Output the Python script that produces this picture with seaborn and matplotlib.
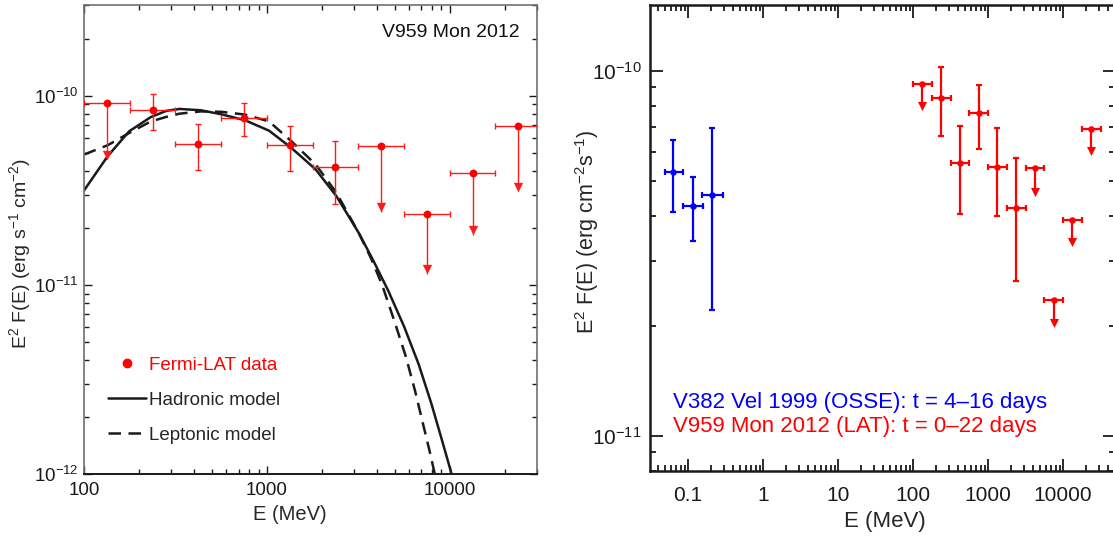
import numpy as np
import pandas as pd
import seaborn as sns
import matplotlib.pyplot as plt
from matplotlib.lines import Line2D
from matplotlib.ticker import FixedLocator, FixedFormatter, LogLocator, NullFormatter

# Fermi-LAT spectrum of V959 Mon 2012 (E in MeV, E^2 F(E) in erg cm^-2 s^-1)
lat_e = [133, 237, 422, 750, 1334, 2371, 4217, 7499, 13335, 23714]
lat_e_lo = [100, 178, 316, 562, 1000, 1778, 3162, 5623, 10000, 17783]
lat_e_hi = [178, 316, 562, 1000, 1778, 3162, 5623, 10000, 17783, 31623]
lat_f = [9.2e-11, 8.4e-11, 5.57e-11, 7.65e-11, 5.46e-11, 4.2e-11, 5.4e-11, 2.36e-11, 3.9e-11, 6.9e-11]
lat_f_lo = [np.nan, 6.6e-11, 4.06e-11, 6.1e-11, 4.0e-11, 2.66e-11, np.nan, np.nan, np.nan, np.nan]
lat_f_hi = [np.nan, 1.02e-10, 7.05e-11, 9.15e-11, 6.95e-11, 5.78e-11, np.nan, np.nan, np.nan, np.nan]
lat_ul = [True, False, False, False, False, False, True, True, True, True]
# arrow ends of the upper limits, as drawn in each panel
ul_end_left = [4.6e-11, 2.44e-11, 1.14e-11, 1.84e-11, 3.12e-11]
ul_end_right = [8.13e-11, 4.73e-11, 2.07e-11, 3.44e-11, 6.12e-11]

# OSSE spectrum of V382 Vel 1999
osse_e = [0.064, 0.115, 0.209]
osse_e_lo = [0.050, 0.085, 0.155]
osse_e_hi = [0.085, 0.160, 0.290]
osse_f = [5.27e-11, 4.26e-11, 4.57e-11]
osse_f_lo = [4.09e-11, 3.42e-11, 2.21e-11]
osse_f_hi = [6.44e-11, 5.11e-11, 6.95e-11]

# model curves (log10 E, log10 E^2F)
had_loge = [2.0, 2.129, 2.247, 2.365, 2.45, 2.522, 2.639, 2.75, 2.881, 3.012, 3.134, 3.267, 3.38,
            3.502, 3.581, 3.663, 3.75, 3.83, 3.9, 3.96, 4.01, 4.03]
had_logf = [-10.501, -10.32, -10.188, -10.113, -10.08, -10.07, -10.077, -10.098, -10.13, -10.185,
            -10.276, -10.39, -10.531, -10.725, -10.87, -11.03, -11.22, -11.42, -11.63, -11.83, -12.0, -12.07]
lep_loge = [2.0, 2.129, 2.247, 2.365, 2.45, 2.522, 2.639, 2.75, 2.881, 3.012, 3.134, 3.267, 3.38,
            3.502, 3.571, 3.63, 3.70, 3.76, 3.81, 3.855, 3.89, 3.918, 3.93]
lep_logf = [-10.311, -10.262, -10.197, -10.136, -10.112, -10.095, -10.083, -10.085, -10.1, -10.136,
            -10.241, -10.364, -10.513, -10.725, -10.863, -11.0, -11.2, -11.38, -11.56, -11.74, -11.88, -12.0, -12.05]

lat = pd.DataFrame({'E': lat_e, 'lo': lat_e_lo, 'hi': lat_e_hi, 'F': lat_f,
                    'Flo': lat_f_lo, 'Fhi': lat_f_hi, 'ul': lat_ul})
det = lat[~lat['ul']]
ul = lat[lat['ul']].copy()
ul['end_l'] = ul_end_left
ul['end_r'] = ul_end_right

sns.set_theme(style='ticks')
plt.rcParams['font.family'] = ['Liberation Sans', 'DejaVu Sans']
plt.rcParams['mathtext.default'] = 'regular'

fig = plt.figure(figsize=(11.13, 5.36), dpi=100)
axl = fig.add_axes([0.0755, 0.1157, 0.4070, 0.8741])
axr = fig.add_axes([0.584, 0.1213, 0.4182, 0.8688])

for ax in (axl, axr):
    ax.set_xscale('log')
    ax.set_yscale('log')

# ---------------- left panel ----------------
red = '#ff1a1a'
sns.lineplot(x=10 ** np.array(had_loge), y=10 ** np.array(had_logf), ax=axl, color='k',
             lw=1.8, sort=False, estimator=None)
sns.lineplot(x=10 ** np.array(lep_loge), y=10 ** np.array(lep_logf), ax=axl, color='k',
             lw=1.8, sort=False, estimator=None)
axl.lines[-1].set_dashes([5, 3])

axl.errorbar(det['E'], det['F'], xerr=[det['E'] - det['lo'], det['hi'] - det['E']],
             yerr=[det['F'] - det['Flo'], det['Fhi'] - det['F']],
             fmt='none', ecolor=red, elinewidth=1.0, capsize=2.5, capthick=1.0, zorder=3)
axl.errorbar(ul['E'], ul['F'], xerr=[ul['E'] - ul['lo'], ul['hi'] - ul['E']],
             fmt='none', ecolor=red, elinewidth=1.0, capsize=2.5, capthick=1.0, zorder=3)
axl.errorbar(ul['E'], ul['F'], yerr=[ul['F'] - ul['end_l'], 0 * ul['F']],
             fmt='none', ecolor=red, elinewidth=1.0, capsize=0, zorder=3)
sns.scatterplot(x=ul['E'], y=ul['end_l'] * 1.06, ax=axl, color=red, marker='v', s=45,
                linewidth=0, zorder=4)
sns.scatterplot(x=lat['E'], y=lat['F'], ax=axl, color='red', s=32, linewidth=0, zorder=5)

axl.set_xlim(100, 30000)
axl.set_ylim(1e-12, 3e-10)
axl.xaxis.set_major_locator(FixedLocator([100, 1000, 10000]))
axl.xaxis.set_major_formatter(FixedFormatter(['100', '1000', '10000']))
axl.xaxis.set_minor_locator(LogLocator(base=10, subs=np.arange(2, 10), numticks=20))
axl.xaxis.set_minor_formatter(NullFormatter())
axl.yaxis.set_major_locator(FixedLocator([1e-12, 1e-11, 1e-10]))
axl.yaxis.set_major_formatter(FixedFormatter(['10$^{-12}$', '10$^{-11}$', '10$^{-10}$']))
axl.yaxis.set_minor_locator(LogLocator(base=10, subs=np.arange(2, 10), numticks=20))
axl.yaxis.set_minor_formatter(NullFormatter())
axl.tick_params(which='both', direction='in', top=True, right=True, labelsize=13.5,
                colors='k', width=1.0)
axl.tick_params(which='major', length=6, pad=4)
axl.tick_params(axis='x', which='major', pad=6)
axl.tick_params(which='minor', length=3.5)
for side in ('left', 'top', 'right'):
    axl.spines[side].set_color('#707070')
    axl.spines[side].set_linewidth(1.2)
axl.spines['bottom'].set_color('k')
axl.spines['bottom'].set_linewidth(1.4)

axl.set_xlabel('E (MeV)', fontsize=14.5, va='center')
axl.xaxis.set_label_coords(0.455, -0.0875)
axl.set_ylabel('E$^2$ F(E) (erg s$^{-1}$ cm$^{-2}$)', fontsize=14, va='center')
axl.yaxis.set_label_coords(-0.141, 0.47)
axl.text(0.9625, 0.943, 'V959 Mon 2012', transform=axl.transAxes, ha='right', va='center',
         fontsize=14, color='#111111')

handles = [Line2D([], [], color='red', marker='o', ls='none', markersize=6),
           Line2D([], [], color='k', lw=1.8),
           Line2D([], [], color='k', lw=1.8, dashes=[5, 3])]
leg = axl.legend(handles, ['Fermi-LAT data', 'Hadronic model', 'Leptonic model'],
                 loc='upper left', bbox_to_anchor=(0.053, 0.250), frameon=False,
                 fontsize=13.5, handlelength=2.0, handletextpad=0.2, labelspacing=0.95,
                 borderpad=0, borderaxespad=0)
leg.get_texts()[0].set_color('red')

# ---------------- right panel ----------------
blue = '#0000ff'
axr.errorbar(osse_e, osse_f, xerr=[np.subtract(osse_e, osse_e_lo), np.subtract(osse_e_hi, osse_e)],
             yerr=[np.subtract(osse_f, osse_f_lo), np.subtract(osse_f_hi, osse_f)],
             fmt='none', ecolor=blue, elinewidth=1.6, capsize=2.5, capthick=1.6, zorder=3)
sns.scatterplot(x=osse_e, y=osse_f, ax=axr, color=blue, s=22, linewidth=0, zorder=5)

axr.errorbar(det['E'], det['F'], xerr=[det['E'] - det['lo'], det['hi'] - det['E']],
             yerr=[det['F'] - det['Flo'], det['Fhi'] - det['F']],
             fmt='none', ecolor='red', elinewidth=1.6, capsize=2.5, capthick=1.6, zorder=3)
axr.errorbar(ul['E'], ul['F'], xerr=[ul['E'] - ul['lo'], ul['hi'] - ul['E']],
             yerr=[ul['F'] - ul['end_r'], 0 * ul['F']],
             fmt='none', ecolor='red', elinewidth=1.6, capsize=2.5, capthick=1.6, zorder=3)
sns.scatterplot(x=ul['E'], y=ul['end_r'] * 0.985, ax=axr, color='red', marker='v', s=42,
                linewidth=0, zorder=4)
sns.scatterplot(x=lat['E'], y=lat['F'], ax=axr, color='red', s=22, linewidth=0, zorder=5)

axr.set_xlim(0.0311, 5.0e4)
axr.set_ylim(8.0e-12, 1.51e-10)
axr.xaxis.set_major_locator(FixedLocator([0.1, 1, 10, 100, 1000, 10000]))
axr.xaxis.set_major_formatter(FixedFormatter(['0.1', '1', '10', '100', '1000', '10000']))
axr.xaxis.set_minor_locator(LogLocator(base=10, subs=np.arange(2, 10), numticks=30))
axr.xaxis.set_minor_formatter(NullFormatter())
axr.yaxis.set_major_locator(FixedLocator([1e-11, 1e-10]))
axr.yaxis.set_major_formatter(FixedFormatter(['10$^{-11}$', '10$^{-10}$']))
axr.yaxis.set_minor_locator(LogLocator(base=10, subs=np.arange(2, 10), numticks=20))
axr.yaxis.set_minor_formatter(NullFormatter())
axr.tick_params(which='both', direction='in', top=True, right=True, labelsize=15,
                colors='k', width=1.3)
axr.tick_params(which='major', length=9)
axr.tick_params(which='minor', length=4.5)
axr.tick_params(axis='x', which='major', pad=11)
axr.tick_params(axis='y', which='major', pad=6)
for side in axr.spines:
    axr.spines[side].set_color('k')
    axr.spines[side].set_linewidth(1.8)

axr.set_xlabel('E (MeV)', fontsize=16, va='center')
axr.xaxis.set_label_coords(0.504, -0.1095)
axr.set_ylabel('E$^2$ F(E) (erg cm$^{-2}$s$^{-1}$)', fontsize=15.5, va='center')
axr.yaxis.set_label_coords(-0.1354, 0.513)
axr.text(0.0494, 0.148, 'V382 Vel 1999 (OSSE): t = 4\u201316 days', transform=axr.transAxes,
         ha='left', va='center', fontsize=16, color=blue)
axr.text(0.0494, 0.0946, 'V959 Mon 2012 (LAT): t = 0\u201322 days', transform=axr.transAxes,
         ha='left', va='center', fontsize=16, color='red')

fig.savefig('out.png', dpi=100)
